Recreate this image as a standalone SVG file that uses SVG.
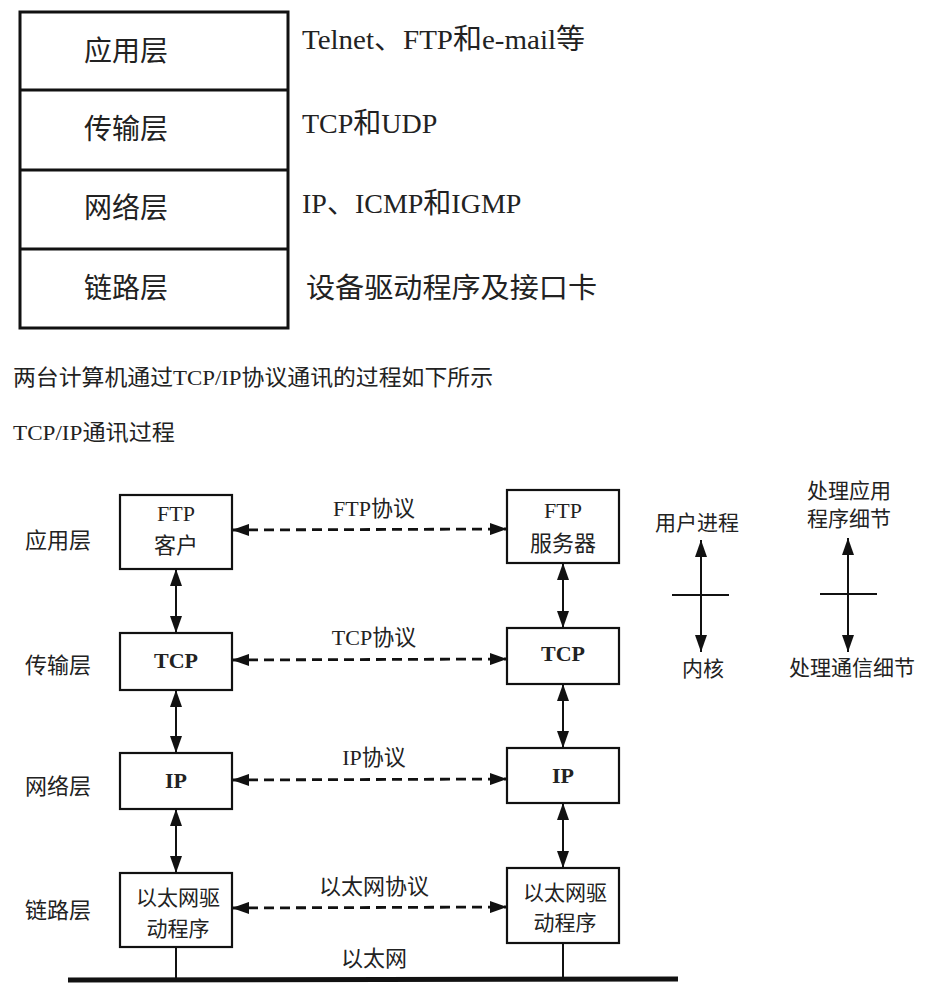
<svg xmlns="http://www.w3.org/2000/svg" width="937" height="990" viewBox="0 0 937 990">
<style>
  text { font-family: "Liberation Serif", "Noto Sans CJK SC", serif; fill: #222; }
  .tl { font-size: 28px; }
  .lb { font-size: 22px; }
  .bx { font-size: 22px; }
  .bb { font-size: 22px; font-weight: bold; }
  .an { font-size: 21px; }
  .box { fill: #fff; stroke: #111; stroke-width: 2.2; }
  .tab { fill: #fff; stroke: #111; stroke-width: 3; }
  .v { stroke: #111; stroke-width: 2; fill: none; }
  .d { stroke: #111; stroke-width: 2.8; fill: none; stroke-dasharray: 10 6; }
</style>
<defs>
  <marker id="ah" viewBox="0 0 17 12" refX="17" refY="6" markerWidth="17" markerHeight="12" markerUnits="userSpaceOnUse" orient="auto-start-reverse">
    <path d="M0,0 L17,6 L0,12 z" fill="#111"/>
  </marker>
</defs>
<rect width="937" height="990" fill="#fff"/>

<g id="layer-table">
  <rect class="tab" x="20" y="12" width="268" height="316"/>
  <line class="tab" x1="20" y1="90" x2="288" y2="90"/>
  <line class="tab" x1="20" y1="170" x2="288" y2="170"/>
  <line class="tab" x1="20" y1="249" x2="288" y2="249"/>
  <text class="tl" x="126" y="61" text-anchor="middle">应用层</text>
  <text class="tl" x="126" y="139" text-anchor="middle">传输层</text>
  <text class="tl" x="126" y="218" text-anchor="middle">网络层</text>
  <text class="tl" x="126" y="298" text-anchor="middle">链路层</text>
</g>
<g id="layer-desc">
  <text class="tl" x="302" y="49" textLength="283" lengthAdjust="spacingAndGlyphs">Telnet、FTP和e-mail等</text>
  <text class="tl" x="302" y="133">TCP和UDP</text>
  <text class="tl" x="302" y="213">IP、ICMP和IGMP</text>
  <text class="tl" x="306" y="298" textLength="291" lengthAdjust="spacingAndGlyphs">设备驱动程序及接口卡</text>
</g>

<g id="captions">
  <text class="lb" x="13" y="385" textLength="480" lengthAdjust="spacingAndGlyphs">两台计算机通过TCP/IP协议通讯的过程如下所示</text>
  <text class="lb" x="13" y="440" textLength="162" lengthAdjust="spacingAndGlyphs">TCP/IP通讯过程</text>
</g>

<g id="layer-labels">
  <text class="lb" x="58" y="548" text-anchor="middle">应用层</text>
  <text class="lb" x="58" y="673" text-anchor="middle">传输层</text>
  <text class="lb" x="58" y="794" text-anchor="middle">网络层</text>
  <text class="lb" x="58" y="918" text-anchor="middle">链路层</text>
</g>

<g id="connectors">
  <line class="v" x1="176" y1="569" x2="176" y2="633" marker-start="url(#ah)" marker-end="url(#ah)"/>
  <line class="v" x1="176" y1="690" x2="176" y2="753" marker-start="url(#ah)" marker-end="url(#ah)"/>
  <line class="v" x1="176" y1="809" x2="176" y2="873" marker-start="url(#ah)" marker-end="url(#ah)"/>
  <line class="v" x1="176" y1="947" x2="176" y2="980"/>
  <line class="v" x1="563" y1="563" x2="563" y2="628" marker-start="url(#ah)" marker-end="url(#ah)"/>
  <line class="v" x1="563" y1="684" x2="563" y2="748" marker-start="url(#ah)" marker-end="url(#ah)"/>
  <line class="v" x1="563" y1="803" x2="563" y2="868" marker-start="url(#ah)" marker-end="url(#ah)"/>
  <line class="v" x1="563" y1="943" x2="563" y2="979"/>
  <line class="d" x1="232" y1="530" x2="507" y2="529" marker-start="url(#ah)" marker-end="url(#ah)"/>
  <line class="d" x1="232" y1="660" x2="507" y2="659" marker-start="url(#ah)" marker-end="url(#ah)"/>
  <line class="d" x1="232" y1="780" x2="507" y2="779" marker-start="url(#ah)" marker-end="url(#ah)"/>
  <line class="d" x1="232" y1="908" x2="507" y2="907" marker-start="url(#ah)" marker-end="url(#ah)"/>
  <line x1="68" y1="980" x2="678" y2="979" stroke="#111" stroke-width="5"/>
  <line class="v" x1="701" y1="540" x2="701" y2="652" marker-start="url(#ah)" marker-end="url(#ah)"/>
  <line class="v" x1="672" y1="595" x2="729" y2="595"/>
  <line class="v" x1="848" y1="538" x2="848" y2="652" marker-start="url(#ah)" marker-end="url(#ah)"/>
  <line class="v" x1="820" y1="594" x2="877" y2="594"/>
</g>

<g id="protocol-labels">
  <text class="bx" x="374" y="516" text-anchor="middle">FTP协议</text>
  <text class="bx" x="374" y="645" text-anchor="middle">TCP协议</text>
  <text class="bx" x="374" y="765" text-anchor="middle">IP协议</text>
  <text class="bx" x="374" y="894" text-anchor="middle">以太网协议</text>
  <text class="bx" x="374" y="966" text-anchor="middle">以太网</text>
</g>

<g id="ftp-client">
  <rect class="box" x="120" y="495" width="112" height="74"/>
  <text class="bx" x="176" y="521" text-anchor="middle">FTP</text>
  <text class="bx" x="176" y="553" text-anchor="middle">客户</text>
</g>
<g id="tcp-left">
  <rect class="box" x="120" y="633" width="112" height="57"/>
  <text class="bb" x="176" y="668" text-anchor="middle">TCP</text>
</g>
<g id="ip-left">
  <rect class="box" x="120" y="753" width="112" height="56"/>
  <text class="bb" x="176" y="788" text-anchor="middle">IP</text>
</g>
<g id="eth-left">
  <rect class="box" x="120" y="873" width="112" height="74"/>
  <text class="an" x="178" y="905" text-anchor="middle">以太网驱</text>
  <text class="an" x="178" y="936" text-anchor="middle">动程序</text>
</g>

<g id="ftp-server">
  <rect class="box" x="507" y="490" width="112" height="73"/>
  <text class="bx" x="563" y="518" text-anchor="middle">FTP</text>
  <text class="bx" x="563" y="551" text-anchor="middle">服务器</text>
</g>
<g id="tcp-right">
  <rect class="box" x="507" y="628" width="112" height="56"/>
  <text class="bb" x="563" y="661" text-anchor="middle">TCP</text>
</g>
<g id="ip-right">
  <rect class="box" x="507" y="748" width="112" height="55"/>
  <text class="bb" x="563" y="783" text-anchor="middle">IP</text>
</g>
<g id="eth-right">
  <rect class="box" x="507" y="868" width="112" height="75"/>
  <text class="an" x="565" y="900" text-anchor="middle">以太网驱</text>
  <text class="an" x="565" y="930" text-anchor="middle">动程序</text>
</g>

<g id="annotations">
  <text class="an" x="697" y="530" text-anchor="middle">用户进程</text>
  <text class="an" x="703" y="676" text-anchor="middle">内核</text>
  <text class="an" x="849" y="498" text-anchor="middle">处理应用</text>
  <text class="an" x="849" y="526" text-anchor="middle">程序细节</text>
  <text class="an" x="852" y="675" text-anchor="middle">处理通信细节</text>
</g>
</svg>
